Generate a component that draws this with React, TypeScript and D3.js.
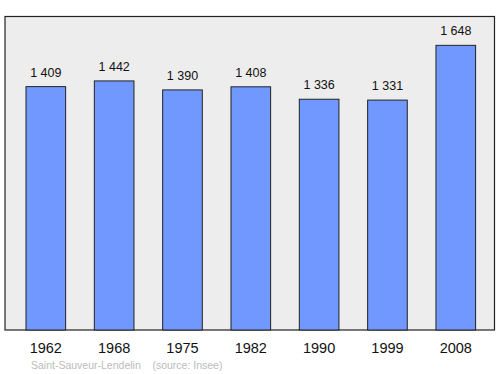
import React from "react";
import * as d3 from "d3";

const years = ["1962", "1968", "1975", "1982", "1990", "1999", "2008"];
const population = [1409, 1442, 1390, 1408, 1336, 1331, 1648];
const valueLabels = ["1 409", "1 442", "1 390", "1 408", "1 336", "1 331", "1 648"];
const commune = "Saint-Sauveur-Lendelin";
const sourceText = "(source: Insee)";

export default function App() {
  const W = 500, H = 374;
  const left = 5, right = 494.5, top = 16.5, bottom = 330;
  const x = d3.scaleBand<string>().domain(years).range([5.5, 496.1]).paddingInner(0.42).paddingOuter(0.3);
  const y = d3.scaleLinear().domain([0, 1815]).range([bottom, top]);
  const font = "'Liberation Sans', Arial, sans-serif";
  return (
    <svg width={W} height={H} style={{ position: "absolute", left: 0, top: 0 }}>
      <rect x={left} y={top} width={right - left} height={bottom - top} fill="#ededed" stroke="#222" strokeWidth={1.2} />
      {population.map((v, i) => (
        <g key={years[i]}>
          <rect x={x(years[i])} y={y(v)} width={x.bandwidth()} height={bottom - y(v)} fill="#7098ff" stroke="#222" strokeWidth={1} />
          <text x={(x(years[i]) as number) + x.bandwidth() / 2} y={y(v) - 10} textAnchor="middle" fontFamily={font} fontSize={12.5} fill="#111">{valueLabels[i]}</text>
          <text x={(x(years[i]) as number) + x.bandwidth() / 2} y={352.5} textAnchor="middle" fontFamily={font} fontSize={14.5} fill="#111">{years[i]}</text>
        </g>
      ))}
      <text x={31} y={368.5} fontFamily={font} fontSize={10.5} fill="#bbb" xmlSpace="preserve">{commune + "    " + sourceText}</text>
    </svg>
  );
}
